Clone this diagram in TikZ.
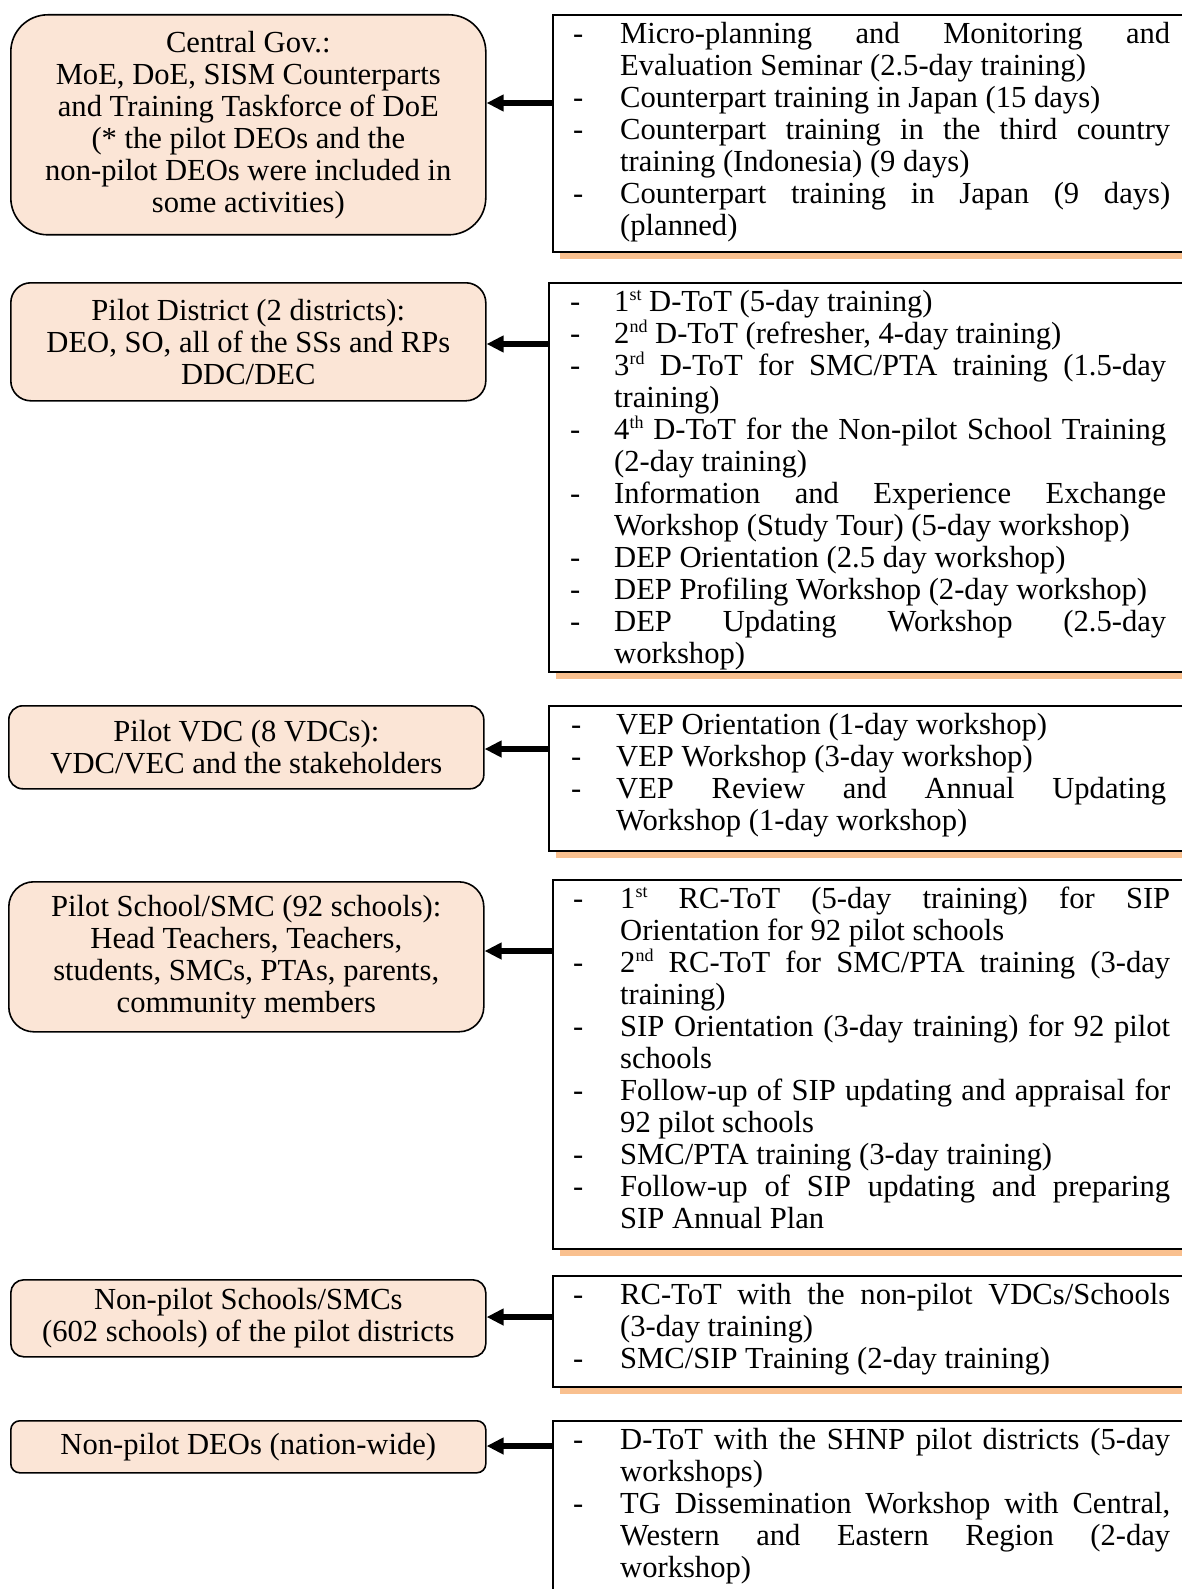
\documentclass[tikz,border=0pt]{standalone}
\usepackage{fontspec}
\setmainfont{Liberation Serif}
\usetikzlibrary{arrows.meta}

\definecolor{peach}{HTML}{FBE5D6}
\definecolor{shadoworange}{HTML}{F9C08F}

% bullet column width and text width of the activity lists
\newlength\bulw
\newlength\linw
% bullet + justified line / bullet + ragged line
\newcommand\bJ[1]{\hbox{\makebox[\bulw][l]{-}\makebox[\linw][s]{#1}}}
\newcommand\bL[1]{\hbox{\makebox[\bulw][l]{-}#1}}
% continuation lines (justified / ragged)
\newcommand\cJ[1]{\hbox{\kern\bulw\makebox[\linw][s]{#1}}}
\newcommand\cL[1]{\hbox{\kern\bulw#1}}
% small raised ordinal suffix
\newcommand\ordsup[1]{\raisebox{11pt}{\fontsize{18pt}{18pt}\selectfont #1}}
% a list block whose baseline is its first line
\newcommand\actlist[3]{\vtop{\bulw=#1\relax\linw=#2\relax
  \baselineskip=32pt\lineskiplimit=-100pt\lineskip=0pt #3}}

% activity box with its orange drop shadow
\newcommand\rightbox[4]{%
  \node[rshadow, minimum height=#4] (#1s) at (#2+8,#3+8) {};
  \node[rbox, minimum height=#4] (#1) at (#2,#3) {};}

\begin{document}
\begin{tikzpicture}[x=1pt,y=-1pt,
  font=\fontsize{30.6pt}{32pt}\selectfont,
  lbox/.style={draw, line width=1.6pt, fill=peach, rounded corners=#1,
    anchor=north west, inner sep=0pt, minimum width=475pt, align=center},
  rbox/.style={draw, line width=1.8pt, fill=white, anchor=north west,
    inner sep=0pt, minimum width=700pt},
  rshadow/.style={fill=shadoworange, anchor=north west, inner sep=0pt,
    minimum width=700pt},
  txt/.style={anchor=base west, inner sep=0pt},
  arr/.style={-{Triangle[length=17pt,width=16pt]}, line width=5.5pt}]

\useasboundingbox (0,0) rectangle (1182,1589);
\fill[white] (0,0) rectangle (1182,1589);
\clip (0,0) rectangle (1182,1589);

% ---------- target groups ----------
\node[lbox=37pt, minimum height=220pt] (l1) at (10,14)
  {Central Gov.:\\MoE, DoE, SISM Counterparts\\and Training Taskforce of DoE\\(* the pilot DEOs and the\\non-pilot DEOs were included in\\some activities)};
\node[lbox=20pt, minimum height=118pt] (l2) at (10,282)
  {Pilot District (2 districts):\\DEO, SO, all of the SSs and RPs\\DDC/DEC};
\node[lbox=14pt, minimum height=83pt] (l3) at (8,705)
  {Pilot VDC (8 VDCs):\\VDC/VEC and the stakeholders};
\node[lbox=25pt, minimum height=150pt] (l4) at (8,881)
  {Pilot School/SMC (92 schools):\\Head Teachers, Teachers,\\students, SMCs, PTAs, parents,\\community members};
\node[lbox=13pt, minimum height=77pt] (l5) at (10,1279)
  {Non-pilot Schools/SMCs\\(602 schools) of the pilot districts};
\node[lbox=9pt, minimum height=52pt] (l6) at (10,1420)
  {Non-pilot DEOs (nation-wide)};

% ---------- activity boxes ----------
\rightbox{r1}{552}{14}{237}
\rightbox{r2}{548}{282}{389}
\rightbox{r3}{548}{705}{145}
\rightbox{r4}{552}{879}{369}
\rightbox{r5}{552}{1275}{111}
\rightbox{r6}{552}{1420}{200}

\node[txt] (t1) at (573,44) {\actlist{47pt}{550pt}{%
  \bJ{Micro-planning and Monitoring and}
  \cL{Evaluation Seminar (2.5-day training)}
  \bL{Counterpart training in Japan (15 days)}
  \bJ{Counterpart training in the third country}
  \cL{training (Indonesia) (9 days)}
  \bJ{Counterpart training in Japan (9 days)}
  \cL{(planned)}}};

\node[txt] (t2) at (570,311) {\actlist{44pt}{552pt}{%
  \bL{1\ordsup{st} D-ToT (5-day training)}
  \bL{2\ordsup{nd} D-ToT (refresher, 4-day training)}
  \bJ{3\ordsup{rd} D-ToT for SMC/PTA training (1.5-day}
  \cL{training)}
  \bJ{4\ordsup{th} D-ToT for the Non-pilot School Training}
  \cL{(2-day training)}
  \bJ{Information and Experience Exchange}
  \cL{Workshop (Study Tour) (5-day workshop)}
  \bL{DEP Orientation (2.5 day workshop)}
  \bL{DEP Profiling Workshop (2-day workshop)}
  \bJ{DEP Updating Workshop (2.5-day}
  \cL{workshop)}}};

\node[txt] (t3) at (571,734) {\actlist{45pt}{550pt}{%
  \bL{VEP Orientation (1-day workshop)}
  \bL{VEP Workshop (3-day workshop)}
  \bJ{VEP Review and Annual Updating}
  \cL{Workshop (1-day workshop)}}};

\node[txt] (t4) at (573,908) {\actlist{47pt}{550pt}{%
  \bJ{1\ordsup{st} RC-ToT (5-day training) for SIP}
  \cL{Orientation for 92 pilot schools}
  \bJ{2\ordsup{nd} RC-ToT for SMC/PTA training (3-day}
  \cL{training)}
  \bJ{SIP Orientation (3-day training) for 92 pilot}
  \cL{schools}
  \bJ{Follow-up of SIP updating and appraisal for}
  \cL{92 pilot schools}
  \bL{SMC/PTA training (3-day training)}
  \bJ{Follow-up of SIP updating and preparing}
  \cL{SIP Annual Plan}}};

\node[txt] (t5) at (573,1304) {\actlist{47pt}{550pt}{%
  \bJ{RC-ToT with the non-pilot VDCs/Schools}
  \cL{(3-day training)}
  \bL{SMC/SIP Training (2-day training)}}};

\node[txt] (t6) at (573,1449) {\actlist{47pt}{550pt}{%
  \bJ{D-ToT with the SHNP pilot districts (5-day}
  \cL{workshops)}
  \bJ{TG Dissemination Workshop with Central,}
  \cJ{Western and Eastern Region (2-day}
  \cL{workshop)}}};

% ---------- arrows from activities to target groups ----------
\coordinate (y1) at (0,103);
\coordinate (y2) at (0,344);
\coordinate (y3) at (0,749);
\coordinate (y4) at (0,951);
\coordinate (y5) at (0,1317);
\coordinate (y6) at (0,1446);
\draw[arr] (r1.west |- y1) -- (l1.east |- y1);
\draw[arr] (r2.west |- y2) -- (l2.east |- y2);
\draw[arr] (r3.west |- y3) -- (l3.east |- y3);
\draw[arr] (r4.west |- y4) -- (l4.east |- y4);
\draw[arr] (r5.west |- y5) -- (l5.east |- y5);
\draw[arr] (r6.west |- y6) -- (l6.east |- y6);
\end{tikzpicture}
\end{document}
